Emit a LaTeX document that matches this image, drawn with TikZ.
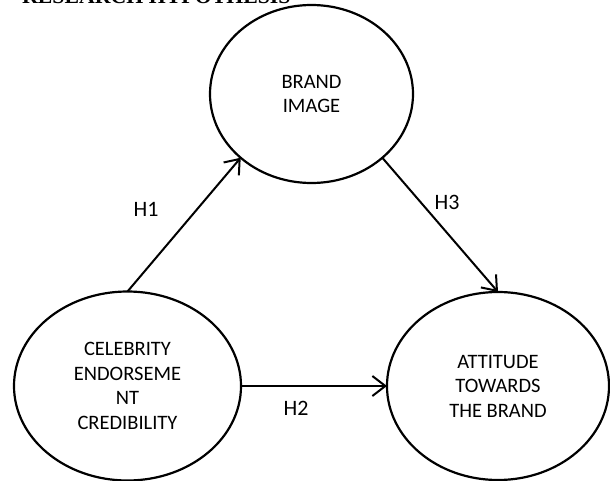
\documentclass[tikz,border=0pt]{standalone}
\usepackage{fontspec}
\setmainfont{Carlito}
\newfontfamily\headfont{Liberation Serif}
\usetikzlibrary{shapes.geometric,arrows.meta}
\begin{document}
\begin{tikzpicture}[x=1pt,y=-1pt,
  ell/.style={ellipse,draw,line width=2.2pt,outer sep=0pt,inner sep=0pt,align=center,
    font=\fontsize{20.5}{24.5}\selectfont},
  conn/.style={line width=2pt,-{Straight Barb[length=13pt,width=20pt]}},
  lab/.style={font=\fontsize{22}{26}\selectfont}]
\useasboundingbox (0,0) rectangle (610,481);
\clip (0,0) rectangle (610,481);
\node[anchor=base west,font=\headfont\bfseries\fontsize{21.8}{26}\selectfont,inner sep=0pt] (head) at (22,4) {RESEARCH HYPOTHESIS};
\node[ell,minimum width=203pt,minimum height=178pt] (brand) at (311.5,94) {BRAND\\IMAGE};
\node[ell,minimum width=227pt,minimum height=189pt] (cel) at (127.5,386) {CELEBRITY\\ENDORSEME\\NT\\CREDIBILITY};
\node[ell,minimum width=222pt,minimum height=188pt] (att) at (498,386) {ATTITUDE\\TOWARDS\\THE BRAND};
\draw[conn] (cel.north) -- (brand.222);
\draw[conn] (brand.318) -- (att.north);
\draw[conn] (cel.east) -- (att.west);
\node[lab] (h1) at (146,209) {H1};
\node[lab] (h2) at (296,408) {H2};
\node[lab] (h3) at (447,202) {H3};
\end{tikzpicture}
\end{document}
